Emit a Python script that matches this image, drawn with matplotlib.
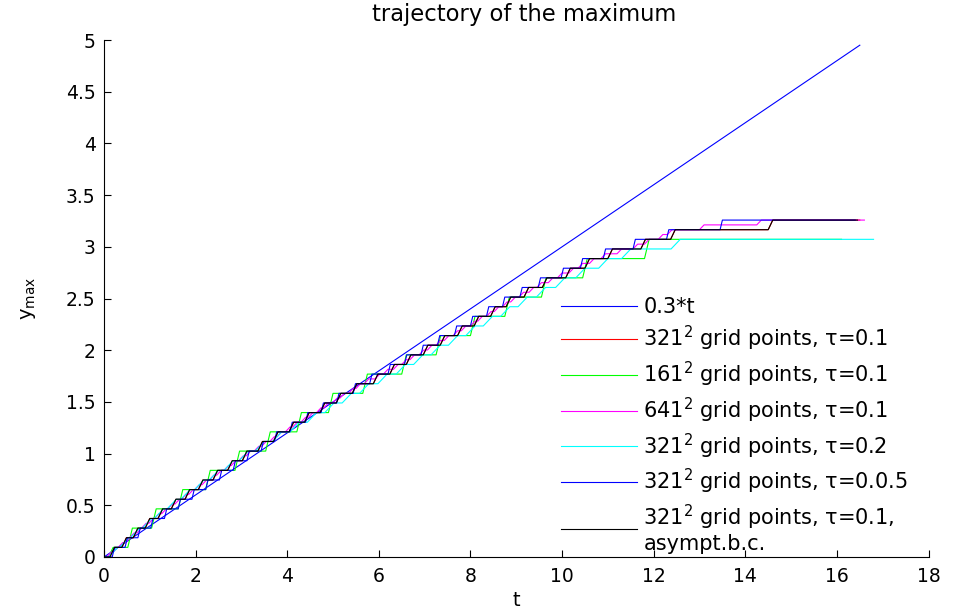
import numpy as np
import matplotlib
matplotlib.use('Agg')
import matplotlib.pyplot as plt

plt.rcParams['font.family'] = ['DejaVu Sans']

# grid spacing of the 321^2 grid (height of one step of y_max)
h = 0.0931

# times at which y_max jumps up
black_jumps = [0.13, 0.39, 0.64, 0.90, 1.18, 1.47, 1.77, 2.06, 2.38, 2.70, 3.02, 3.36,
               3.70, 4.04, 4.38, 4.72, 5.07, 5.42, 5.88, 6.24, 6.60, 6.97, 7.34, 7.72,
               8.08, 8.44, 8.78, 9.17, 9.57, 10.08, 10.5, 11.0, 11.72, 12.37, 14.5]
red_jumps = [0.13, 0.39, 0.64, 0.90, 1.18, 1.47, 1.77, 2.06, 2.38, 2.70, 3.02, 3.36,
             3.70, 4.04, 4.38, 4.72, 5.07, 5.42, 5.88, 6.24, 6.60, 6.97, 7.34, 7.72,
             8.08, 8.44, 8.78, 9.17, 9.57, 10.08, 10.5, 11.0, 11.72, 12.37, 14.5]
blue_jumps = [0.18, 0.46, 0.74, 1.02, 1.32, 1.62, 1.92, 2.22, 2.52, 2.82, 3.12, 3.43,
              3.72, 4.06, 4.40, 4.74, 5.08, 5.44, 5.80, 6.20, 6.56, 6.92, 7.28, 7.65,
              8.00, 8.35, 8.70, 9.08, 9.48, 9.98, 10.4, 10.9, 11.55, 12.28, 13.45]
cyan_jumps = [0.10, 0.34, 0.58, 0.84, 1.10, 1.38, 1.68, 1.98, 2.30, 2.62, 2.95, 3.30,
              3.68, 4.06, 4.44, 4.82, 5.20, 5.58, 5.98, 6.38, 6.76, 7.14, 7.52, 7.90,
              8.28, 8.66, 9.04, 9.44, 9.86, 10.3, 10.8, 11.3, 12.38]
green_jumps = [0.10, 0.52, 1.04, 1.62, 2.22, 2.86, 3.53, 4.21, 4.90, 5.65, 6.50, 7.25,
               8.00, 8.75, 9.55, 10.45, 11.8]
green_levels = [1, 3, 5, 7, 9, 11, 13, 15, 17, 19, 21, 23, 25, 27, 29, 31, 33]
magenta_jumps = [0.06, 0.20, 0.31, 0.47, 0.56, 0.72, 0.82, 0.98, 1.10, 1.26, 1.39, 1.55,
                 1.69, 1.85, 1.98, 2.14, 2.30, 2.46, 2.62, 2.78, 2.94, 3.10, 3.28, 3.44,
                 3.62, 3.78, 3.96, 4.12, 4.30, 4.46, 4.64, 4.80, 4.99, 5.15, 5.34, 5.50,
                 5.68, 5.92, 6.10, 6.32, 6.50, 6.68, 6.88, 7.06, 7.25, 7.43, 7.62, 7.80,
                 8.00, 8.16, 8.35, 8.52, 8.70, 8.88, 9.06, 9.28, 9.45, 9.70, 9.90, 10.15,
                 10.35, 10.6, 10.85, 11.2, 11.55, 11.8, 12.1, 12.3, 13.0, 14.25]

t_lin_end = 16.5


def stairs(jumps, levels, dy, tau, t_end):
    # y_max sampled every tau: each jump appears as a short ramp
    t = [0.0]
    y = [0.0]
    prev = 0
    for tj, lv in zip(jumps, levels):
        t += [tj, tj + tau]
        y += [prev * dy, lv * dy]
        prev = lv
    t.append(t_end)
    y.append(prev * dy)
    return t, y


fig = plt.figure(figsize=(9.61, 6.11), dpi=100)
ax = fig.add_axes([0.1082, 0.0884, 0.8580, 0.8461])

tl = np.array([0.0, t_lin_end])
ax.plot(tl, 0.3 * tl, color='#0000ff', lw=0.8, label='0.3*t')

series = [
    (red_jumps, range(1, 36), h, 0.1, 16.5, '#ff0000', '321$^2$ grid points, τ=0.1'),
    (green_jumps, green_levels, h, 0.1, 16.1, '#00ff00', '161$^2$ grid points, τ=0.1'),
    (magenta_jumps, range(1, 71), h / 2, 0.1, 16.6, '#ff00ff', '641$^2$ grid points, τ=0.1'),
    (cyan_jumps, range(1, 34), h, 0.2, 16.8, '#00ffff', '321$^2$ grid points, τ=0.2'),
    (blue_jumps, range(1, 36), h, 0.05, 16.4, '#0000ff', '321$^2$ grid points, τ=0.0.5'),
    (black_jumps, range(1, 36), h, 0.1, 16.45, '#000000',
     '321$^2$ grid points, τ=0.1,\nasympt.b.c.'),
]
for jumps, levels, dy, tau, t_end, col, lab in series:
    t, y = stairs(jumps, list(levels), dy, tau, t_end)
    ax.plot(t, y, color=col, lw=0.8, label=lab)

ax.set_xlim(0, 18)
ax.set_ylim(0, 5)
ax.set_xticks(np.arange(0, 19, 2))
ax.set_yticks(np.arange(0, 5.01, 0.5))
ax.set_yticklabels(['0', '0.5', '1', '1.5', '2', '2.5', '3', '3.5', '4', '4.5', '5'])
ax.spines['top'].set_visible(False)
ax.spines['right'].set_visible(False)
ax.tick_params(direction='in', length=5, labelsize=13.5, width=0.8)
ax.tick_params(axis='y', pad=6)
ax.tick_params(axis='x', pad=7)
ax.set_title('trajectory of the maximum', fontsize=16.3, pad=14, x=0.51)
ax.set_xlabel('t', fontsize=14, labelpad=4)
ax.set_ylabel('y$_{\\rm max}$', fontsize=14, labelpad=20)

leg = ax.legend(loc='lower left', bbox_to_anchor=(558 / 961, 1 - 557 / 611),
                bbox_transform=fig.transFigure, frameon=False, fontsize=15,
                handlelength=3.65, handletextpad=0.3, labelspacing=0.32,
                borderaxespad=0, borderpad=0.15)
leg.get_texts()[-1].set_linespacing(1.1)

fig.savefig('out.png', dpi=100)
